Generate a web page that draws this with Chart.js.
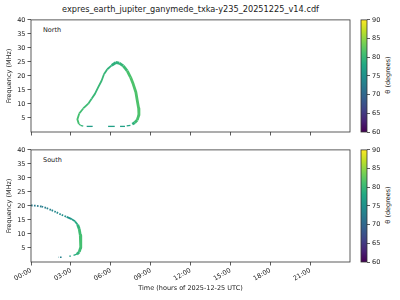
<!DOCTYPE html>
<html><head><meta charset="utf-8">
<script src="https://cdn.jsdelivr.net/npm/chart.js@4.4.1/dist/chart.umd.min.js"></script>
<style>
body{margin:0;width:400px;height:300px;background:#fff;position:relative;overflow:hidden;font-family:"DejaVu Sans",sans-serif;color:#222}
canvas{position:absolute}
.t{position:absolute;white-space:nowrap;line-height:10px}
</style></head><body>
<div class="t" style="left:11px;width:359px;top:4px;text-align:center;font-size:8.2px">expres_earth_jupiter_ganymede_txka-y235_20251225_v14.cdf</div>
<div class="t" style="left:43px;top:25px;font-size:6.5px">North</div>
<div class="t" style="left:43px;top:155px;font-size:6.5px">South</div>
<div class="t" style="left:358px;top:70px;width:60px;text-align:center;font-size:6.5px;transform:rotate(-90deg)">θ (degrees)</div>
<div class="t" style="left:358px;top:200px;width:60px;text-align:center;font-size:6.5px;transform:rotate(-90deg)">θ (degrees)</div>
<canvas id="cN" width="352" height="124" style="left:0;top:14px"></canvas>
<canvas id="cS" width="352" height="156" style="left:0;top:144px"></canvas>
<canvas id="bN" width="45" height="124" style="left:355px;top:14px"></canvas>
<canvas id="bS" width="45" height="124" style="left:355px;top:144px"></canvas>
<script>
// ---- data (hours of day, MHz, theta degrees) ----
const northHours = [3.93, 3.72, 3.60, 3.49, 3.63, 3.93, 4.31, 4.56, 4.81, 5.06, 5.31, 5.49, 5.74, 6.07, 6.39, 6.64, 6.94, 7.24, 7.49, 7.69, 7.89, 7.99, 8.10, 8.12, 7.99, 7.80, 7.62, 7.62, 7.48, 7.20, 7.20, 7.07, 6.70, 6.70, 6.30, 5.80, 5.80, 4.64, 4.19];
const northFreq  = [2.1, 2.4, 2.9, 4.5, 6.6, 8.4, 10.1, 11.9, 13.6, 16.0, 18.3, 20.6, 22.4, 23.8, 24.8, 24.6, 23.6, 21.8, 19.5, 17.1, 14.2, 11.3, 8.4, 6.1, 4.3, 3.3, 2.8, null, 2.4, 2.2, null, 2.0, 2.0, null, 2.0, 2.0, null, 2.0, 2.0];
const northTheta = [79, 80, 81, 81, 81, 80.5, 80.5, 80, 80, 80, 80, 80, 79.5, 79, 79, 79.5, 80, 81, 81.5, 81.5, 81.5, 81.5, 81.5, 81.5, 81, 80, 78, 78, 77.5, 77.5, 77, 77, 77, 77, 77, 77, 77, 76.5, 76.5];

const southHours = [0.00, 0.30, 0.80, 1.18, 1.55, 1.93, 2.31, 2.68, 3.06, 3.31, 3.51, 3.63, 3.71, 3.76, 3.73, 3.63, 3.45, 3.20, 3.20, 3.00, 2.80, 2.80, 2.30, 2.05];
const southFreq  = [20.2, 20.1, 19.8, 19.2, 18.5, 17.7, 16.8, 16.1, 15.3, 14.5, 13.3, 11.8, 9.5, 7.1, 5.1, 3.6, 2.8, 2.4, null, 2.1, 2.1, null, 1.7, 1.7];
const southTheta = [72.5, 72.5, 72.5, 73, 73.5, 74, 74.5, 75, 76, 77.5, 79, 80, 81, 81, 81, 80, 79, 78, 78, 76.5, 76.5, 73, 73, 73];

const hourTicks = [0, 3, 6, 9, 12, 15, 18, 21];
const freqTicks = [5, 10, 15, 20, 25, 30, 35, 40];
const thetaTicks = [60, 65, 70, 75, 80, 85, 90];
const thetaMin = 60, thetaMax = 90;

// ---- colormap ----
const VIR = ['#440154','#482475','#414487','#355f8d','#2a788e','#21918c','#22a884','#44bf70','#7ad151','#bddf26','#fde725'];
function hex(c){return [parseInt(c.slice(1,3),16),parseInt(c.slice(3,5),16),parseInt(c.slice(5,7),16)];}
function viridis(t){
  t=Math.max(0,Math.min(1,t)); const p=t*(VIR.length-1); const i=Math.min(VIR.length-2,Math.floor(p)); const f=p-i;
  const a=hex(VIR[i]), b=hex(VIR[i+1]);
  return 'rgb('+a.map((v,k)=>Math.round(v+(b[k]-v)*f)).join(',')+')';
}
const thetaColor = th => viridis((th-thetaMin)/(thetaMax-thetaMin));

Chart.defaults.font.family = '"DejaVu Sans", sans-serif';
Chart.defaults.font.size = 6.5;
Chart.defaults.color = '#222';
const AX = '#333';

const boxPlugin = {id:'box', afterDraw(chart){
  const a=chart.chartArea, c=chart.ctx; c.save(); c.strokeStyle=AX; c.lineWidth=0.8;
  c.strokeRect(a.left, a.top, a.right-a.left, a.bottom-a.top); c.restore();
}};

function series(hours, freq, theta, dashBefore, thickAfter){
  const data = hours.map((h,i)=>({x:h, y:freq[i]}));
  return {
    data, showLine:true, pointRadius:0, spanGaps:false, borderCapStyle:'butt', borderJoinStyle:'round',
    borderColor: thetaColor(theta[0]),
    segment:{
      borderColor: s => thetaColor((theta[s.p0DataIndex]+theta[s.p1DataIndex])/2),
      borderWidth: s => {
        if (Math.min(freq[s.p0DataIndex], freq[s.p1DataIndex]) < 2.6) return 1.3;
        return hours[s.p0DataIndex] >= thickAfter ? 2.8 : 1.8;
      },
      borderDash: s => (hours[s.p1DataIndex] < dashBefore ? [1.6,1.4] : [])
    }
  };
}

function mainChart(id, ds, showLabels, axisHeight){
  return new Chart(document.getElementById(id), {
    type:'scatter',
    data:{datasets:[ds]},
    options:{
      responsive:false, animation:false, events:[],
      layout:{padding:{top:4, right:2, left:0, bottom:0}},
      plugins:{legend:{display:false}, tooltip:{enabled:false}},
      scales:{
        x:{type:'linear', min:0, max:24,
          afterBuildTicks: s => { s.ticks = hourTicks.map(v=>({value:v})); },
          afterFit: s => { s.height = axisHeight; },
          grid:{drawOnChartArea:false, tickLength:3.5, color:AX, lineWidth:0.8},
          border:{display:false},
          ticks:{display:showLabels, minRotation:30, maxRotation:30, padding:1, autoSkip:false,
            callback: v => String(v).padStart(2,'0') + ':00'},
          title:{display:showLabels, text:'Time (hours of 2025-12-25 UTC)', padding:{top:0,bottom:8}, font:{size:6.5}}
        },
        y:{type:'linear', min:0, max:40,
          afterBuildTicks: s => { s.ticks = freqTicks.map(v=>({value:v})); },
          afterFit: s => { s.width = 31; },
          grid:{drawOnChartArea:false, tickLength:3.5, color:AX, lineWidth:0.8},
          border:{display:false},
          ticks:{padding:2},
          title:{display:true, text:'Frequency (MHz)', padding:{top:5,bottom:0}, font:{size:6.5}}
        }
      }
    },
    plugins:[boxPlugin]
  });
}

function colorbar(id){
  return new Chart(document.getElementById(id), {
    type:'bar',
    data:{labels:[''], datasets:[{data:[[thetaMin, thetaMax]], categoryPercentage:1, barPercentage:1, borderWidth:0,
      backgroundColor: ctx => {
        const a = ctx.chart.chartArea; if(!a) return '#21918c';
        const g = ctx.chart.ctx.createLinearGradient(0, a.bottom, 0, a.top);
        VIR.forEach((c,i)=>g.addColorStop(i/(VIR.length-1), c)); return g;
      }}]},
    options:{
      responsive:false, animation:false, events:[],
      layout:{padding:{top:4, left:6, right:0, bottom:6}},
      plugins:{legend:{display:false}, tooltip:{enabled:false}},
      scales:{
        x:{display:false},
        y:{position:'right', min:thetaMin, max:thetaMax,
          afterBuildTicks: s => { s.ticks = thetaTicks.map(v=>({value:v})); },
          afterFit: s => { s.width = 33; },
          grid:{drawOnChartArea:false, tickLength:3, color:AX, lineWidth:0.8},
          border:{display:false},
          ticks:{padding:2}
        }
      }
    },
    plugins:[boxPlugin]
  });
}

mainChart('cN', series(northHours, northFreq, northTheta, -1, 6.0), false, 6);
mainChart('cS', series(southHours, southFreq, southTheta, 2.9, 3.4), true, 38);
colorbar('bN'); colorbar('bS');
</script>
</body></html>
